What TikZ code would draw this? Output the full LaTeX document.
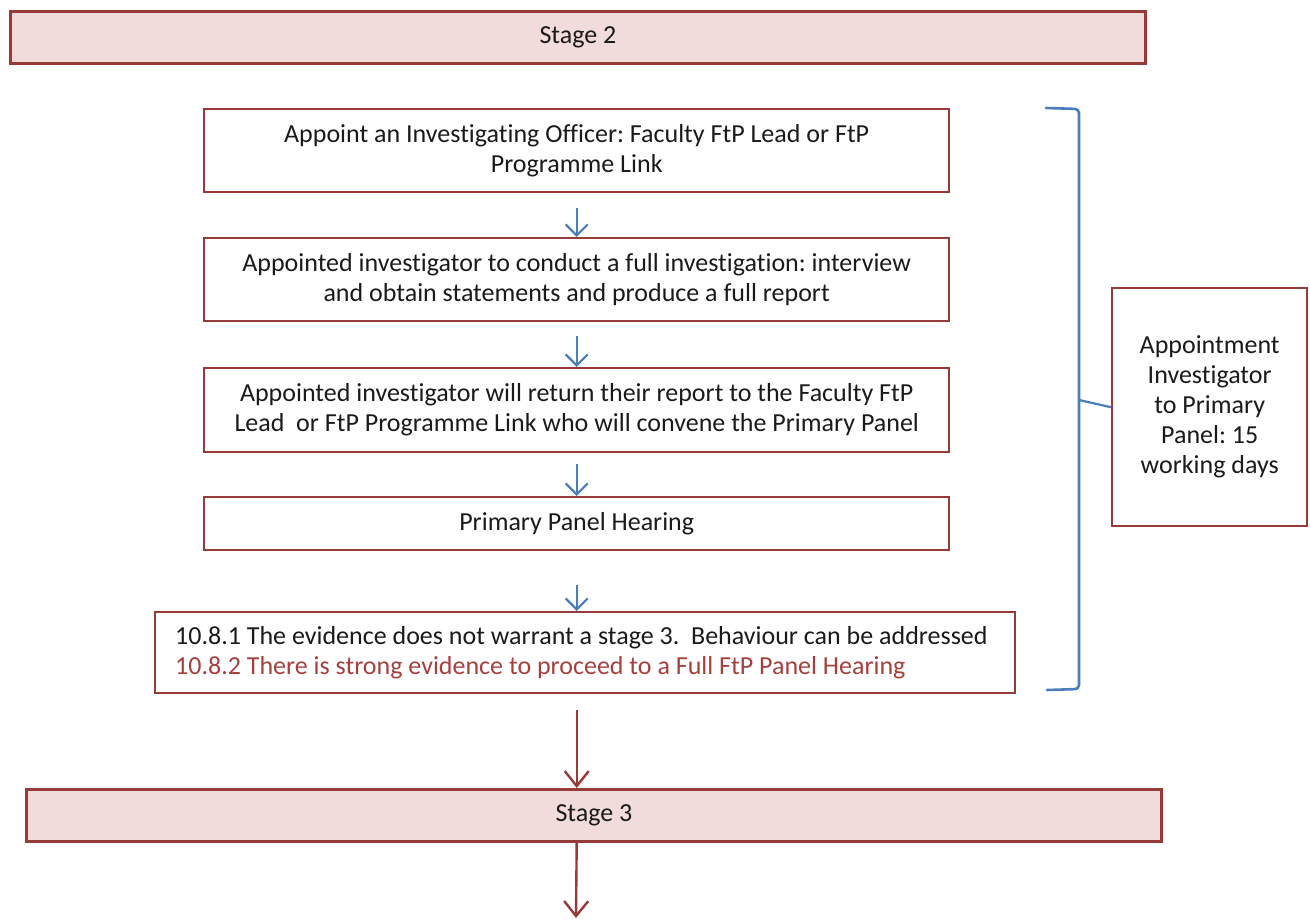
\documentclass[tikz,border=0pt]{standalone}
\usepackage{fontspec}
\setmainfont{Carlito}[Ligatures=NoCommon]
\frenchspacing
\usetikzlibrary{arrows.meta}
\definecolor{bordred}{HTML}{973B39}
\definecolor{fillpink}{HTML}{F2DCDB}
\definecolor{bluel}{HTML}{4A7EBB}
\definecolor{redtext}{HTML}{A5403D}
\definecolor{txt}{HTML}{1A1A1A}
\tikzset{
  box/.style={draw=bordred, line width=2.4pt, anchor=north west, inner sep=0pt, text=txt, font=\fontsize{26}{30}\selectfont, align=center},
  stagebox/.style={box, fill=fillpink, line width=2.8pt},
  bluearrow/.style={draw=bluel, line width=2.2pt, -{Straight Barb[length=11pt,width=22pt,line width=2.2pt]}},
  redarrow/.style={draw=bordred, line width=2.4pt, -{Straight Barb[length=15pt,width=24pt,line width=2.4pt]}},
  bracketline/.style={draw=bluel, line width=2.6pt, line cap=round}
}
\begin{document}
\begin{tikzpicture}[x=1pt,y=-1pt]
\useasboundingbox (0,0) rectangle (1310,920);
\node[stagebox, minimum width=1135, minimum height=52] (s2) at (9,10) {Stage 2};
\node[box, minimum width=745, minimum height=83] (b1) at (203,108) {Appoint an Investigating Officer: Faculty FtP Lead or FtP\\Programme Link};
\node[box, minimum width=745, minimum height=83] (b2) at (203,237) {Appointed investigator to conduct a full investigation: interview\\and obtain statements and produce a full report};
\node[box, minimum width=745, minimum height=84] (b3) at (203,367) {Appointed investigator will return their report to the Faculty FtP\\Lead\ \ or FtP Programme Link who will convene the Primary Panel};
\node[box, minimum width=745, minimum height=53] (b4) at (203,496) {Primary Panel Hearing};
\node[box, minimum width=860, minimum height=81, align=flush left, text width=820, inner xsep=20pt] (b5) at (154,611) {10.8.1 The evidence does not warrant a stage 3.\ \ Behaviour can be addressed\\\textcolor{redtext}{10.8.2 There is strong evidence to proceed to a Full FtP Panel Hearing}};
\node[stagebox, minimum width=1135, minimum height=52] (s3) at (25,788) {Stage 3};
\node[box, minimum width=195, minimum height=238] (rb) at (1111,287) {Appointment\\Investigator\\to Primary\\Panel: 15\\working days};
\coordinate (endpt) at (576,918);
\coordinate (bm) at (1079,400);

\draw[bluearrow] ([yshift=-15pt]b1.south) -- (b2.north);
\draw[bluearrow] ([yshift=-14pt]b2.south) -- (b3.north);
\draw[bluearrow] ([yshift=-11pt]b3.south) -- (b4.north);
\draw[bluearrow] ([yshift=-34pt]b4.south) -- (b4.south |- b5.north);
\draw[redarrow] ([yshift=-16pt]b4.south |- b5.south) -- (b4.south |- s3.north);
\draw[redarrow] (b4.south |- s3.south) -- (endpt);

\draw[bracketline, rounded corners=4pt] (1046,108) -- (1079,109) -- (1079,689) -- (1047,690);
\draw[draw=bluel, line width=2.2pt] (bm) -- (rb.west);
\end{tikzpicture}
\end{document}
